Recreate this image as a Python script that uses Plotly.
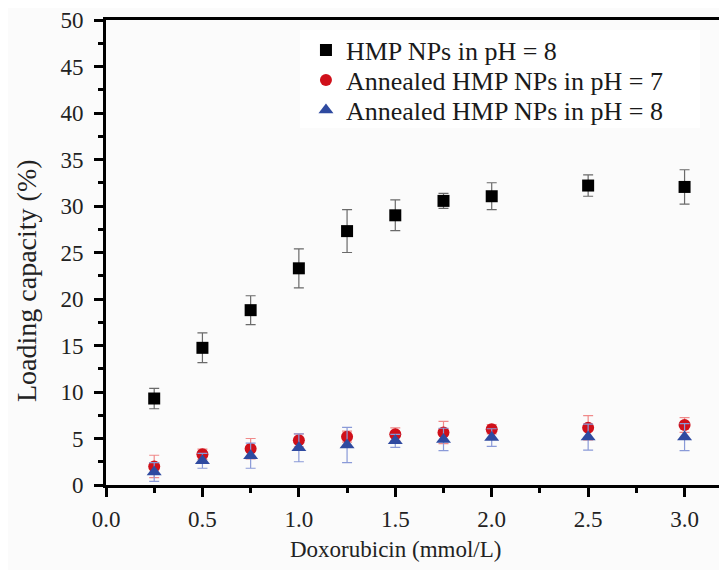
import plotly.graph_objects as go

dox = [0.25, 0.5, 0.75, 1.0, 1.25, 1.5, 1.75, 2.0, 2.5, 3.0]

hmp_ph8 = [9.3, 14.75, 18.8, 23.3, 27.3, 29.0, 30.55, 31.05, 32.2, 32.05]
hmp_ph8_err = [1.1, 1.6, 1.55, 2.1, 2.3, 1.65, 0.8, 1.45, 1.15, 1.85]

ann_ph7 = [2.0, 3.3, 3.9, 4.8, 5.2, 5.45, 5.65, 6.0, 6.15, 6.45]
ann_ph7_err = [1.2, 0.55, 1.1, 0.7, 0.6, 0.7, 1.2, 0.5, 1.3, 0.8]

ann_ph8 = [1.4, 2.6, 3.15, 4.0, 4.3, 4.75, 4.9, 5.1, 5.15, 5.15]
ann_ph8_err = [1.0, 0.8, 1.35, 1.5, 1.9, 0.7, 1.2, 0.95, 1.4, 1.45]

names = ["HMP NPs in pH = 8", "Annealed HMP NPs in pH = 7", "Annealed HMP NPs in pH = 8"]
x_ticks = [0, 0.5, 1.0, 1.5, 2.0, 2.5, 3.0]
x_tick_labels = ["0.0", "0.5", "1.0", "1.5", "2.0", "2.5", "3.0"]
x_title = "Doxorubicin (mmol/L)"
y_title = "Loading capacity (%)"

fig = go.Figure()
fig.add_trace(go.Scatter(
    x=dox, y=hmp_ph8, mode="markers", name=names[0], legend="legend",
    marker=dict(symbol="square", size=12, color="black"),
    error_y=dict(type="data", array=hmp_ph8_err, color="#6a6a6a", thickness=1.2, width=5),
))
fig.add_trace(go.Scatter(
    x=dox, y=ann_ph7, mode="markers", name=names[1], legend="legend2",
    marker=dict(symbol="circle", size=12, color="#d0101a"),
    error_y=dict(type="data", array=ann_ph7_err, color="#f08a8a", thickness=1.2, width=5),
))
fig.add_trace(go.Scatter(
    x=dox, y=ann_ph8, mode="markers", name=names[2], legend="legend3",
    marker=dict(symbol="triangle-up", size=13, color="#2f4aa0"),
    error_y=dict(type="data", array=ann_ph8_err, color="#8a9ad8", thickness=1.2, width=5),
))

font_family = "Liberation Serif, Times New Roman, serif"
tick_font = dict(family=font_family, size=23, color="#222222")
leg_font = dict(family=font_family, size=26, color="#1a1a1a")
leg_common = dict(x=0.322, xanchor="left", yanchor="middle", font=leg_font,
                  bgcolor="rgba(0,0,0,0)", borderwidth=0, itemwidth=30)

# page body has an 8px margin, so figure is 8px smaller and margins compensate
fig.update_layout(
    width=719, height=562,
    margin=dict(l=98, r=0, t=12, b=85, autoexpand=False),
    paper_bgcolor="#fbfbfb", plot_bgcolor="#fbfbfb",
    font=dict(family=font_family, size=23, color="#222222"),
    showlegend=True,
    legend=dict(y=(477 - 42) / 465, **leg_common),
    legend2=dict(y=(477 - 72) / 465, **leg_common),
    legend3=dict(y=(477 - 102) / 465, **leg_common),
    xaxis=dict(
        range=[0, 3.22], tickvals=x_ticks, ticktext=x_tick_labels,
        ticks="outside", ticklen=9, tickwidth=2.5, tickcolor="black",
        showline=True, linewidth=3, linecolor="black", mirror=True,
        showgrid=False, zeroline=False, automargin=False,
        minor=dict(dtick=0.25, tick0=0, ticks="outside", ticklen=5, tickwidth=2.5, tickcolor="black"),
        tickfont=tick_font, ticklabelstandoff=2,
    ),
    yaxis=dict(
        range=[0, 50], dtick=5,
        ticks="outside", ticklen=9, tickwidth=2.5, tickcolor="black",
        showline=True, linewidth=3, linecolor="black",
        showgrid=False, zeroline=False, automargin=False,
        minor=dict(dtick=2.5, tick0=0, ticks="outside", ticklen=5, tickwidth=2.5, tickcolor="black"),
        tickfont=tick_font, ticklabelstandoff=6,
    ),
    shapes=[
        dict(type="rect", xref="paper", yref="paper", layer="below",
             x0=(292 - 98) / 621, x1=(692 - 98) / 621,
             y0=(477 - 120) / 465, y1=(477 - 22) / 465,
             fillcolor="white", line=dict(width=0)),
    ],
    annotations=[
        dict(text=x_title, xref="paper", yref="paper", x=(387 - 98) / 621, y=-(541 - 477) / 465,
             xanchor="center", yanchor="middle", showarrow=False,
             font=dict(family=font_family, size=23, color="#222222")),
        dict(text=y_title, xref="paper", yref="paper", x=-(98 - 18) / 621, y=(477 - 273) / 465,
             xanchor="center", yanchor="middle", showarrow=False, textangle=-90,
             font=dict(family=font_family, size=28, color="#222222")),
    ],
)

fig.write_html("out.html")
